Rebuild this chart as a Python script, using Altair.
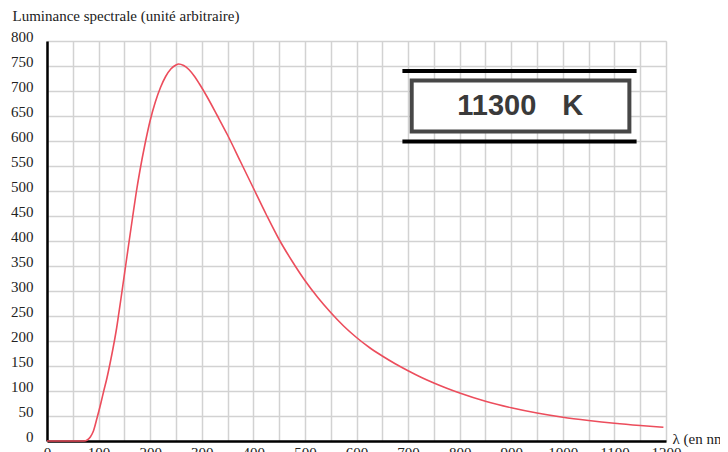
import altair as alt
import pandas as pd

# Curve (wavelength in nm, luminance in arbitrary units)
wavelength = [0, 60, 72, 78, 84, 90, 97, 104, 110, 116, 122, 127, 131, 135, 139, 143,
              147, 151, 155, 159, 166, 173, 180, 190, 200, 210, 220, 230, 240, 250,
              255, 265, 275, 285, 295, 310, 330, 350, 375, 400, 425, 450,
              475, 500, 525, 550, 575, 600, 625, 650, 675, 700, 725, 750, 775, 800,
              850, 900, 950, 1000, 1050, 1100, 1150, 1195]
luminance = [0, 0, 0, 2, 8, 20, 46, 74, 100, 125, 154, 180, 202, 226, 254, 282,
             311, 340, 369, 398, 448, 497, 540, 594, 641, 678, 707, 729, 744, 752,
             754, 751, 743, 730.5, 715, 689, 651, 612, 559, 506, 453, 403,
             360, 321, 287, 257, 230, 207, 187, 170, 154.5, 140.5, 127.5, 116, 105.5, 96,
             79.5, 66.5, 56, 47.5, 41, 35.5, 31, 27.5]

y_ticks = list(range(0, 801, 50))
x_ticks = list(range(0, 1201, 50))

title_text = "Luminance spectrale (unité arbitraire)"
x_title = "λ (en nm)"
box_number = "11300"
box_unit = "K"

df = pd.DataFrame({"lam": wavelength, "lum": luminance})

x_scale = alt.Scale(domain=[0, 1200], nice=False, zero=False)
y_scale = alt.Scale(domain=[0, 800], nice=False)

x_axis = alt.Axis(values=x_ticks, title=x_title, grid=True, tickSize=0, format="d",
                  labelExpr="datum.value % 100 == 0 ? datum.label : ''",
                  labelOverlap=False, labelFlush=False, labelBaseline="top",
                  labelPadding=4, labelFont="Liberation Serif", labelFontSize=15,
                  labelColor="#222", domainColor="#000", domainWidth=2.5,
                  titleFont="Liberation Serif", titleFontSize=15, titleFontWeight="normal",
                  titleColor="#222", titleAngle=0, titleAlign="left",
                  titleBaseline="alphabetic", titleX=625, titleY=2,
                  gridColor="#d2d2d2", gridWidth=1.5)
y_axis = alt.Axis(values=y_ticks, title=title_text, grid=True, tickSize=0, format="d",
                  labelOverlap=False, labelFlush=False,
                  labelPadding=14, labelOffset=-5, labelFont="Liberation Serif",
                  labelFontSize=15, labelColor="#222", domainColor="#000", domainWidth=2.5,
                  titleFont="Liberation Serif", titleFontSize=15, titleFontWeight="normal",
                  titleColor="#222", titleAngle=0, titleAlign="left",
                  titleBaseline="alphabetic", titleX=-35, titleY=-21,
                  gridColor="#d2d2d2", gridWidth=1.5)

line = alt.Chart(df).mark_line(color="#ec4d5c", strokeWidth=1.6, interpolate="monotone").encode(
    x=alt.X("lam:Q", scale=x_scale, axis=x_axis),
    y=alt.Y("lum:Q", scale=y_scale, axis=y_axis),
)

# Annotation box (in data units)
bars_df = pd.DataFrame({"x1": [689, 689], "x2": [1143, 1143], "y": [740, 599]})
bars = alt.Chart(bars_df).mark_rule(color="#000", strokeWidth=4).encode(
    x=alt.X("x1:Q", scale=x_scale, axis=x_axis), x2="x2:Q",
    y=alt.Y("y:Q", scale=y_scale, axis=y_axis))

rect_df = pd.DataFrame({"x1": [707], "x2": [1129], "y1": [721], "y2": [619]})
rect = alt.Chart(rect_df).mark_rect(fill="white", stroke="#474747", strokeWidth=4).encode(
    x=alt.X("x1:Q", scale=x_scale, axis=x_axis), x2="x2:Q",
    y=alt.Y("y1:Q", scale=y_scale, axis=y_axis), y2="y2:Q")

txt_df = pd.DataFrame({"x": [872, 1019], "y": [671, 671], "t": [box_number, box_unit]})
txt = alt.Chart(txt_df).mark_text(font="Liberation Sans", fontSize=29, fontWeight="bold",
                                  color="#3a3a3a", baseline="middle", align="center").encode(
    x=alt.X("x:Q", scale=x_scale, axis=x_axis), y=alt.Y("y:Q", scale=y_scale, axis=y_axis),
    text="t:N")

chart = alt.layer(line, bars, rect, txt).properties(
    width=619, height=400,
    autosize=alt.AutoSizeParams(type="none"),
    padding={"left": 39, "top": 33, "right": 54, "bottom": 12},
).configure_view(strokeWidth=0).configure(background="white")

chart.save("out.html", embed_options={"renderer": "svg", "actions": False})
